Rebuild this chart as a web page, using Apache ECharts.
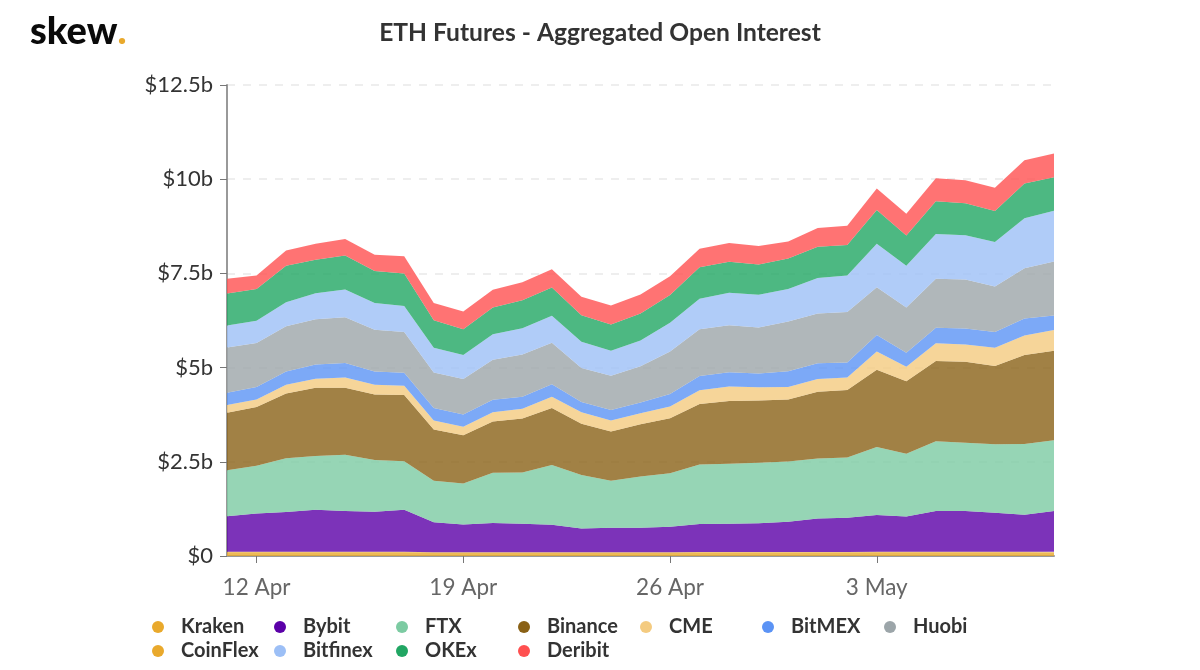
<!doctype html>
<html lang="en">
<head>
    <meta charset="utf-8">
    <title>ETH Futures - Aggregated Open Interest</title>
    <script src="https://cdn.jsdelivr.net/npm/echarts@6/dist/echarts.min.js"></script>
    <style>
        html, body { margin: 0; padding: 0; background: #fff; }
        #chart { width: 1200px; height: 670px; }
    </style>
</head>
<body>
    <div id="chart"></div>
    <script type="text/javascript">
        var days = ['11 Apr', '12 Apr', '13 Apr', '14 Apr', '15 Apr', '16 Apr', '17 Apr', '18 Apr', '19 Apr', '20 Apr',
            '21 Apr', '22 Apr', '23 Apr', '24 Apr', '25 Apr', '26 Apr', '27 Apr', '28 Apr', '29 Apr', '30 Apr',
            '1 May', '2 May', '3 May', '4 May', '5 May', '6 May', '7 May', '8 May', '9 May'];
        var yTicks = ['$0', '$2.5b', '$5b', '$7.5b', '$10b', '$12.5b'];
        var legendOrder = ['Kraken', 'Bybit', 'FTX', 'Binance', 'CME', 'BitMEX', 'Huobi', 'CoinFlex', 'Bitfinex', 'OKEx', 'Deribit'];

        // values in $b
        var kraken = [.10, .10, .10, .10, .10, .10, .10, .085, .085, .085, .085, .085, .085, .085, .085, .085, .09, .09, .09, .09, .09, .09, .10, .10, .10, .10, .10, .10, .10];
        var coinflex = [.015, .015, .015, .015, .015, .015, .015, .012, .012, .012, .012, .012, .012, .012, .012, .012, .016, .016, .016, .016, .016, .016, .015, .015, .015, .015, .015, .015, .015];
        var bybit = [.94, 1.01, 1.05, 1.11, 1.08, 1.06, 1.11, .80, .74, .78, .76, .73, .63, .65, .65, .68, .74, .75, .76, .80, .89, .91, .97, .93, 1.08, 1.08, 1.03, .98, 1.08];
        var ftx = [1.22, 1.27, 1.43, 1.43, 1.49, 1.37, 1.29, 1.10, 1.09, 1.33, 1.36, 1.59, 1.42, 1.25, 1.36, 1.42, 1.58, 1.59, 1.61, 1.60, 1.59, 1.60, 1.81, 1.67, 1.85, 1.81, 1.82, 1.88, 1.88];
        var binance = [1.53, 1.56, 1.72, 1.81, 1.78, 1.74, 1.76, 1.36, 1.28, 1.36, 1.43, 1.51, 1.36, 1.31, 1.39, 1.46, 1.61, 1.67, 1.65, 1.65, 1.77, 1.79, 2.05, 1.92, 2.13, 2.15, 2.08, 2.36, 2.37];
        var cme = [.20, .20, .23, .24, .27, .26, .24, .24, .22, .25, .26, .30, .31, .29, .29, .31, .36, .38, .35, .33, .34, .33, .48, .39, .47, .46, .48, .52, .55];
        var bitmex = [.33, .33, .35, .38, .39, .35, .35, .33, .33, .33, .32, .33, .27, .28, .29, .33, .38, .38, .37, .42, .42, .40, .44, .37, .41, .42, .42, .45, .39];
        var huobi = [1.20, 1.17, 1.20, 1.20, 1.21, 1.11, 1.08, .94, .94, 1.06, 1.12, 1.10, .90, .91, .96, 1.13, 1.24, 1.25, 1.22, 1.32, 1.32, 1.34, 1.27, 1.20, 1.30, 1.30, 1.21, 1.33, 1.43];
        var bitfinex = [.58, .59, .64, .69, .74, .71, .69, .66, .64, .68, .70, .72, .70, .66, .68, .76, .81, .86, .87, .86, .94, .97, 1.15, 1.11, 1.19, 1.18, 1.18, 1.33, 1.35];
        var okex = [.85, .84, .97, .89, .90, .85, .86, .73, .68, .71, .74, .75, .70, .70, .72, .74, .84, .82, .80, .81, .83, .81, .90, .80, .87, .85, .82, .92, .89];
        var deribit = [.39, .36, .40, .42, .44, .43, .46, .46, .47, .47, .48, .48, .49, .50, .50, .50, .49, .50, .49, .45, .50, .51, .57, .58, .61, .61, .62, .62, .63];

        function makeSeries(name, color, data) {
            return {
                name: name,
                type: 'line',
                stack: 'total',
                data: data,
                symbol: 'none',
                silent: true,
                itemStyle: { color: color },
                lineStyle: { width: 0 },
                areaStyle: { color: color, opacity: 0.8 }
            };
        }

        // ticks and labels only on the weekly dates
        function weekly(index) {
            return index % 7 === 1;
        }

        // one legend per name, the reference lines them up in fixed columns
        function makeLegends() {
            return legendOrder.map(function (name, i) {
                return {
                    data: [name],
                    left: 152 + (i % 7) * 122,
                    top: 617 + Math.floor(i / 7) * 24,
                    padding: 0,
                    itemWidth: 36,
                    itemHeight: 12,
                    icon: 'circle',
                    selectedMode: false,
                    textStyle: { fontFamily: 'Lato', fontSize: 20, fontWeight: 'bold', color: '#333' }
                };
            });
        }

        var myChart = echarts.init(document.getElementById('chart'));
        var option = {
            animation: false,
            title: [
                {
                    text: 'ETH Futures - Aggregated Open Interest',
                    left: 'center',
                    top: 16,
                    textStyle: { fontFamily: 'Lato', fontSize: 24.6, fontWeight: 'bold', color: '#333' }
                },
                {
                    text: '{a|skew}{b|.}',
                    left: 25,
                    top: 8,
                    textStyle: {
                        rich: {
                            a: { fontFamily: 'Lato', fontSize: 38, fontWeight: 900, color: '#0a0a0a' },
                            b: { fontFamily: 'Lato', fontSize: 38, fontWeight: 900, color: '#e9a92c' }
                        }
                    }
                }
            ],
            legend: makeLegends(),
            grid: { left: 227, right: 146, top: 85, bottom: 114 },
            xAxis: {
                type: 'category',
                boundaryGap: false,
                data: days,
                axisLine: { lineStyle: { color: '#999', width: 2 } },
                axisTick: { interval: weekly, length: 7, lineStyle: { color: '#777', width: 1 } },
                axisLabel: { interval: weekly, margin: 20, fontFamily: 'Lato', fontSize: 22.5, color: '#666' },
                splitLine: { show: false }
            },
            yAxis: {
                type: 'value',
                min: 0,
                max: 12.5,
                interval: 2.5,
                axisLine: { show: true, lineStyle: { color: '#999', width: 2 } },
                axisTick: { show: true, length: 7, lineStyle: { color: '#777', width: 1 } },
                axisLabel: {
                    margin: 14,
                    fontFamily: 'Lato',
                    fontSize: 22,
                    color: '#333',
                    formatter: function (value) { return yTicks[Math.round(value / 2.5)]; }
                },
                splitLine: { lineStyle: { color: '#eee', width: 2, type: [8, 8] } }
            },
            series: [
                makeSeries('Kraken', '#e9a92c', kraken),
                makeSeries('CoinFlex', '#e9a92c', coinflex),
                makeSeries('Bybit', '#5b00a8', bybit),
                makeSeries('FTX', '#7ccba2', ftx),
                makeSeries('Binance', '#8a6116', binance),
                makeSeries('CME', '#f4cb80', cme),
                makeSeries('BitMEX', '#5b93f5', bitmex),
                makeSeries('Huobi', '#9ca5a9', huobi),
                makeSeries('Bitfinex', '#9cbff6', bitfinex),
                makeSeries('OKEx', '#21a663', okex),
                makeSeries('Deribit', '#ff5050', deribit)
            ]
        };
        myChart.setOption(option);
    </script>
</body>
</html>
